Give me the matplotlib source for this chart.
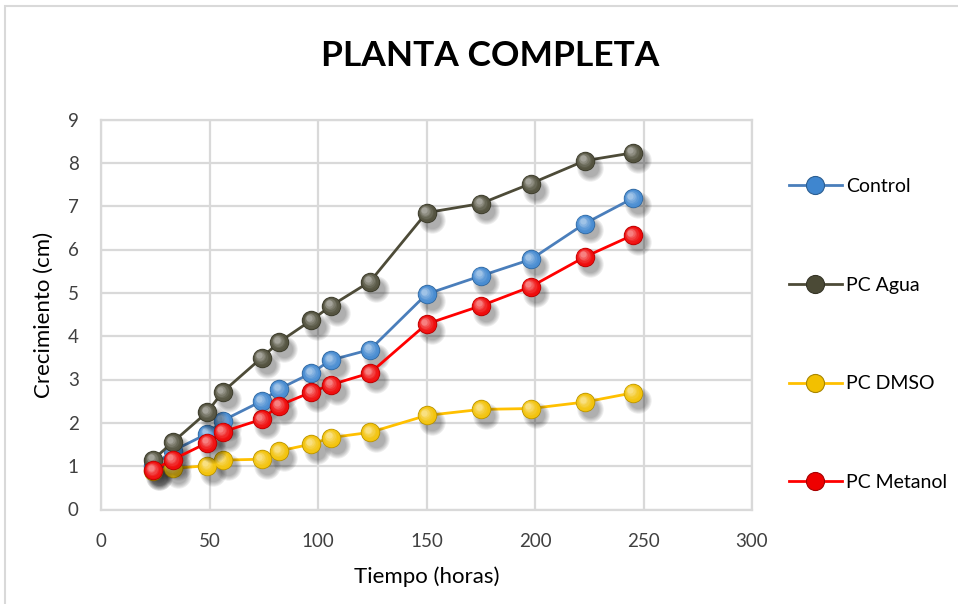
import matplotlib
matplotlib.use("Agg")
import matplotlib.pyplot as plt
import matplotlib.transforms as mtransforms
from matplotlib.colors import to_rgb
from matplotlib.lines import Line2D
from matplotlib.patches import Rectangle
import numpy as np

plt.rcParams['font.family'] = ['Lato', 'DejaVu Sans']

# tiempo de medida (horas)
tiempo = [24, 33, 49, 56, 74, 82, 97, 106, 124, 150, 175, 198, 223, 245]

control = [1.00, 1.35, 1.75, 2.05, 2.50, 2.78, 3.15, 3.45, 3.69, 4.97, 5.39, 5.77, 6.60, 7.18]
pc_agua = [1.15, 1.55, 2.25, 2.71, 3.50, 3.86, 4.37, 4.70, 5.26, 6.85, 7.06, 7.52, 8.05, 8.23]
pc_dmso = [0.90, 0.95, 1.01, 1.14, 1.16, 1.35, 1.51, 1.66, 1.78, 2.17, 2.31, 2.33, 2.48, 2.69]
pc_metanol = [0.91, 1.15, 1.54, 1.79, 2.08, 2.40, 2.71, 2.88, 3.15, 4.28, 4.70, 5.14, 5.83, 6.33]

series = [
    ("Control", control, "#4a7ebb", "#3f86cf"),
    ("PC Agua", pc_agua, "#4d4b38", "#4b4a36"),
    ("PC DMSO", pc_dmso, "#ffc000", "#f2c000"),
    ("PC Metanol", pc_metanol, "#ff0000", "#ee0000"),
]

x_ticks = [0, 50, 100, 150, 200, 250, 300]
y_ticks = [0, 1, 2, 3, 4, 5, 6, 7, 8, 9]

MS = 14


def lighten(c, f):
    r, g, b = to_rgb(c)
    return (r + (1 - r) * f, g + (1 - g) * f, b + (1 - b) * f)


def darken(c, f):
    r, g, b = to_rgb(c)
    return (r * (1 - f), g * (1 - f), b * (1 - f))


def sphere(ax, x, y, color, z):
    # soft drop shadow
    sh = mtransforms.offset_copy(ax.transData, fig=ax.figure, x=4, y=-5, units='points')
    for k in range(5):
        ax.plot(x, y, 'o', ms=MS + 5 - k * 1.6, color='black', alpha=0.07,
                mec='none', transform=sh, zorder=z)
    # body
    ax.plot(x, y, 'o', ms=MS, color=darken(color, 0.25), mec='none', zorder=z + 1)
    # shading toward the upper left
    steps = 6
    for k in range(steps):
        f = k / (steps - 1)
        size = MS * (0.92 - 0.6 * f)
        off = mtransforms.offset_copy(ax.transData, fig=ax.figure,
                                      x=-1.6 * f, y=1.8 * f, units='points')
        ax.plot(x, y, 'o', ms=size, color=lighten(color, 0.05 + 0.45 * f ** 1.5),
                mec='none', transform=off, zorder=z + 1.1 + k * 0.01)


fig = plt.figure(figsize=(9.58, 6.04), dpi=100)
fig.patches.append(Rectangle((5 / 958, -0.1), 1.2, 1 - 6 / 604 + 0.1,
                             transform=fig.transFigure, fill=False,
                             edgecolor='#d9d9d9', linewidth=1.5))

ax = fig.add_axes([101 / 958, 1 - 509.5 / 604, 651 / 958, 390 / 604])

for i, (name, vals, lc, mc) in enumerate(series):
    z = 3 + i * 2
    ax.plot(tiempo, vals, '-', color=lc, lw=2.0, zorder=z, solid_capstyle='round')
    sphere(ax, tiempo, vals, mc, z)

ax.set_xlim(0, 300)
ax.set_ylim(0, 9)
ax.set_xticks(x_ticks)
ax.set_yticks(y_ticks)
ax.tick_params(length=0, labelsize=13.5, colors='#404040')
ax.tick_params(axis='x', pad=17)
ax.tick_params(axis='y', pad=16)
ax.grid(True, color='#d9d9d9', linewidth=1.6)
ax.set_axisbelow(True)
for s in ax.spines.values():
    s.set_color('#d9d9d9')
    s.set_linewidth(1.6)

ax.set_xlabel("Tiempo (horas)", fontsize=16, color='#000000', labelpad=12)
ax.set_ylabel("Crecimiento (cm)", fontsize=16, color='#000000', labelpad=10)

fig.text(490 / 958, 1 - 56 / 604, "PLANTA COMPLETA", ha='center', va='center',
         fontsize=25.5, fontweight='bold')

handles = [Line2D([0], [0], color=lc, lw=2.0, marker='o', ms=MS - 1,
                  mfc=mc, mec=darken(mc, 0.3), mew=0.8)
           for name, vals, lc, mc in series]
labels = [s[0] for s in series]
fig.legend(handles, labels, loc='upper left', bbox_to_anchor=(789 / 958, 1 - 178 / 604),
           frameon=False, fontsize=14, labelspacing=4.2, handlelength=2.7,
           handletextpad=0.25, borderpad=0, borderaxespad=0)

fig.savefig("out.png", dpi=100)
